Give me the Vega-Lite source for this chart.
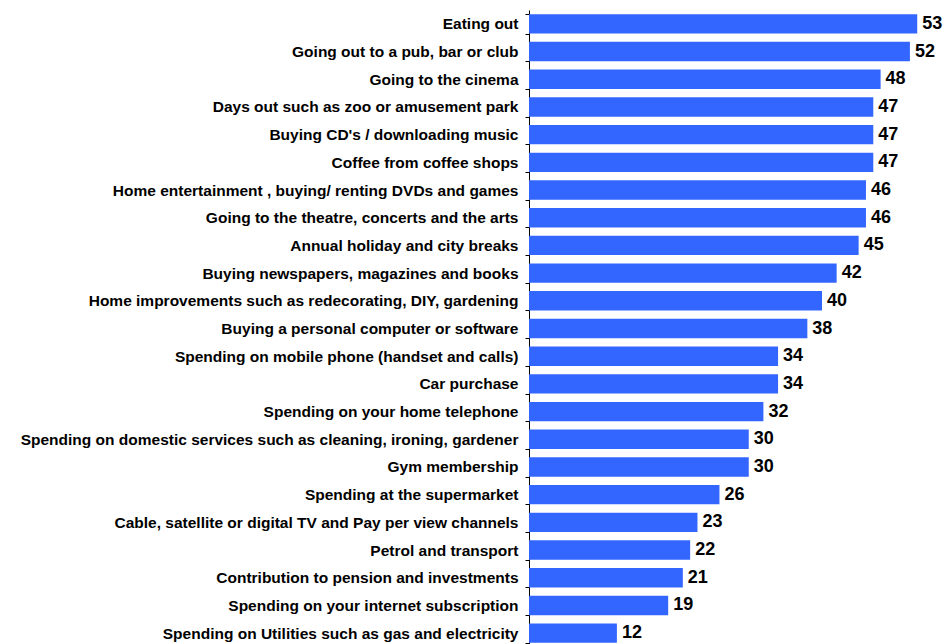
{
  "$schema": "https://vega.github.io/schema/vega-lite/v6.json",
  "autosize": "none",
  "padding": {"left": 529, "top": 10, "right": 0, "bottom": 0},
  "width": 419,
  "height": 637,
  "background": "white",
  "data": {"values": [
    {"item": "Eating out", "value": 53},
    {"item": "Going out to a pub, bar or club", "value": 52},
    {"item": "Going to the cinema", "value": 48},
    {"item": "Days out such as zoo or amusement park", "value": 47},
    {"item": "Buying CD's / downloading music", "value": 47},
    {"item": "Coffee from coffee shops", "value": 47},
    {"item": "Home entertainment , buying/ renting DVDs and games", "value": 46},
    {"item": "Going to the theatre, concerts and the arts", "value": 46},
    {"item": "Annual holiday and city breaks", "value": 45},
    {"item": "Buying newspapers, magazines and books", "value": 42},
    {"item": "Home improvements such as redecorating, DIY, gardening", "value": 40},
    {"item": "Buying a personal computer or software", "value": 38},
    {"item": "Spending on mobile phone (handset and calls)", "value": 34},
    {"item": "Car purchase", "value": 34},
    {"item": "Spending on your home telephone", "value": 32},
    {"item": "Spending on domestic services such as cleaning, ironing, gardener", "value": 30},
    {"item": "Gym membership", "value": 30},
    {"item": "Spending at the supermarket", "value": 26},
    {"item": "Cable, satellite or digital TV and Pay per view channels", "value": 23},
    {"item": "Petrol and transport", "value": 22},
    {"item": "Contribution to pension and investments", "value": 21},
    {"item": "Spending on your internet subscription", "value": 19},
    {"item": "Spending on Utilities such as gas and electricity", "value": 12}
  ]},
  "encoding": {
    "y": {
      "field": "item", "type": "nominal", "sort": null,
      "scale": {"paddingInner": 0.3, "paddingOuter": 0.15},
      "axis": {
        "title": null,
        "domainColor": "black", "domainWidth": 1,
        "tickColor": "black", "tickSize": 4, "tickBand": "extent",
        "labelFont": "Liberation Sans", "labelFontWeight": "bold", "labelFontSize": 15.5,
        "labelColor": "black", "labelPadding": 7, "labelLimit": 600
      }
    },
    "x": {
      "field": "value", "type": "quantitative",
      "scale": {"domain": [0, 57.2], "nice": false},
      "axis": null
    }
  },
  "layer": [
    {"mark": {"type": "bar", "color": "#3366FF"}},
    {
      "mark": {"type": "text", "align": "left", "dx": 5, "font": "Liberation Sans", "fontWeight": "bold", "fontSize": 18, "color": "black"},
      "encoding": {"text": {"field": "value", "type": "quantitative"}}
    }
  ],
  "config": {"view": {"stroke": null}}
}
